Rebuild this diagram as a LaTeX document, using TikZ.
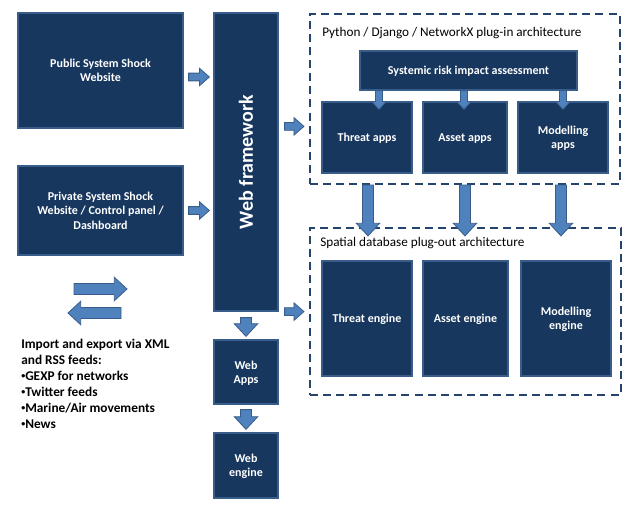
\documentclass[tikz,border=0pt]{standalone}
\usepackage{fontspec}
\setmainfont{Carlito}
\usetikzlibrary{calc}
\definecolor{boxfill}{HTML}{17375E}
\definecolor{boxedge}{HTML}{385D8A}
\definecolor{arrowfill}{HTML}{4F81BD}
\definecolor{dashcol}{HTML}{24446E}
\newcommand\feedbullet{\raisebox{0.32ex}{\scalebox{0.6}{•}}}
\tikzset{
  ba shaft/.store in=\bashaft, ba head/.store in=\bahead, ba len/.store in=\balen,
  ba shaft=3pt, ba head=6.75pt, ba len=7.5pt,
  blockarrow/.style={fill=arrowfill, draw=boxedge, line width=0.6pt, line join=miter,
    to path={
      ($(\tikztostart)!\bashaft!90:(\tikztotarget)$)
      -- ($(\tikztotarget)!\balen!(\tikztostart)!\bashaft!-90:(\tikztostart)$)
      -- ($(\tikztotarget)!\balen!(\tikztostart)!\bahead!-90:(\tikztostart)$)
      -- (\tikztotarget)
      -- ($(\tikztotarget)!\balen!(\tikztostart)!\bahead!90:(\tikztostart)$)
      -- ($(\tikztotarget)!\balen!(\tikztostart)!\bashaft!90:(\tikztostart)$)
      -- ($(\tikztostart)!\bashaft!-90:(\tikztotarget)$)
      -- cycle}},
  thinarrow/.style={blockarrow, ba shaft=2.9pt, ba head=6.6pt, ba len=7.5pt},
  tinyarrow/.style={blockarrow, ba shaft=2.6pt, ba head=5.6pt, ba len=6pt},
  fatarrow/.style={blockarrow, ba shaft=4.1pt, ba head=8.8pt, ba len=9.5pt},
  box/.style={fill=boxfill, draw=boxedge, line width=0.9pt, text=white,
    font=\bfseries\fontsize{9}{10.8}\selectfont, align=center, inner sep=0pt,
    text depth=0pt},
  dashbox/.style={draw=dashcol, line width=1.6pt, dash pattern=on 6pt off 3.8pt,
    inner sep=0pt},
  caption/.style={font=\fontsize{9.9}{11.8}\selectfont, anchor=west, inner sep=0pt},
}
\begin{document}
\begin{tikzpicture}[x=0.75pt,y=-0.75pt]
\useasboundingbox (0,0) rectangle (640,511);

% dashed architecture frames
\node[dashbox, minimum width=232.5pt, minimum height=127.5pt] (plugin) at (465,99) {};
\node[dashbox, minimum width=233.25pt, minimum height=125.25pt] (plugout) at (465.5,311.5) {};
\node[caption] (plugintitle) at (322,33) {Python / Django / NetworkX plug-in architecture};
\node[caption] (plugouttitle) at (320,243) {Spatial database plug-out architecture};

% left column
\node[box, minimum width=123.75pt, minimum height=86.25pt] (pub) at (100.5,70.5)
  {Public System Shock\\Website};
\node[box, minimum width=123.75pt, minimum height=66.75pt] (priv) at (100.5,210.5)
  {Private System Shock\\Website / Control panel /\\Dashboard};

% web stack
\node[box, minimum width=48pt, minimum height=223.5pt, text depth=] (web) at (246,162)
  {\rotatebox{90}{\fontsize{15}{18}\selectfont Web framework}};
\node[box, minimum width=48pt, minimum height=48pt] (wapps) at (246,372) {Web\\Apps};
\node[box, minimum width=48pt, minimum height=48.75pt] (weng) at (246,465.5) {Web\\engine};

% plug-in apps
\node[box, minimum width=162.75pt, minimum height=29.25pt] (sys) at (468.5,70.5)
  {Systemic risk impact assessment};
\node[box, minimum width=67.5pt, minimum height=53.25pt] (tapps) at (367,137.5) {Threat apps};
\node[box, minimum width=63pt, minimum height=53.25pt] (aapps) at (465,137.5) {Asset apps};
\node[box, minimum width=67.5pt, minimum height=53.25pt] (mapps) at (563,137.5) {Modelling\\apps};

% plug-out engines
\node[box, minimum width=67.5pt, minimum height=86.25pt] (teng) at (367,318.5) {Threat engine};
\node[box, minimum width=63.75pt, minimum height=86.25pt] (aeng) at (465.5,318.5) {Asset engine};
\node[box, minimum width=67.5pt, minimum height=86.25pt] (meng) at (566,318.5) {Modelling\\engine};

% import / export note
\node[anchor=north west, inner sep=0pt, align=left,
  font=\bfseries\fontsize{10}{12}\selectfont] (feeds) at (21,339)
  {Import and export via XML\\and RSS feeds:\\\feedbullet GEXP for networks\\\feedbullet Twitter feeds\\\feedbullet Marine/Air movements\\\feedbullet News};

% connectors
\draw[thinarrow] ($(pub.east)+(5,6.5)$) to ($(web.west|-pub.east)+(-4,6.5)$);
\draw[thinarrow] ($(priv.east)+(5,0)$) to ($(web.west|-priv.east)+(-4,0)$);
\draw[thinarrow] ($(web.north east)+(6,114)$) to ($(web.north east-|plugin.west)+(-5,114)$);
\draw[thinarrow] ($(web.south east)+(6,0)$) to ($(web.south east-|plugout.west)+(-5,0)$);

\draw[tinyarrow] ($(sys.south-|tapps.north)+(12,0)$) to ($(tapps.north)+(12,8)$);
\draw[tinyarrow] ($(sys.south-|aapps.north)+(-1,0)$) to ($(aapps.north)+(-1,8)$);
\draw[tinyarrow] ($(sys.south-|mapps.north)+(0,0)$) to ($(mapps.north)+(0,8)$);

\draw[fatarrow] ($(plugin.south-|tapps.south)+(1,0)$) to ($(plugout.north-|tapps.south)+(1,9)$);
\draw[fatarrow] ($(plugin.south-|aapps.south)+(0,0)$) to ($(plugout.north-|aapps.south)+(0,9)$);
\draw[fatarrow] ($(plugin.south-|mapps.south)+(-2,0)$) to ($(plugout.north-|mapps.south)+(-2,9)$);

\draw[fatarrow] ($(web.south)+(0,6)$) to ($(wapps.north)+(0,-3)$);
\draw[fatarrow] ($(wapps.south)+(0,5)$) to ($(weng.north)+(0,-3)$);

\coordinate (exportfrom) at (74,289);
\coordinate (exportto) at (127,289);
\coordinate (importfrom) at (121,313);
\coordinate (importto) at (68,313);
\draw[fatarrow] (exportfrom) to (exportto);
\draw[fatarrow] (importfrom) to (importto);
\end{tikzpicture}
\end{document}
